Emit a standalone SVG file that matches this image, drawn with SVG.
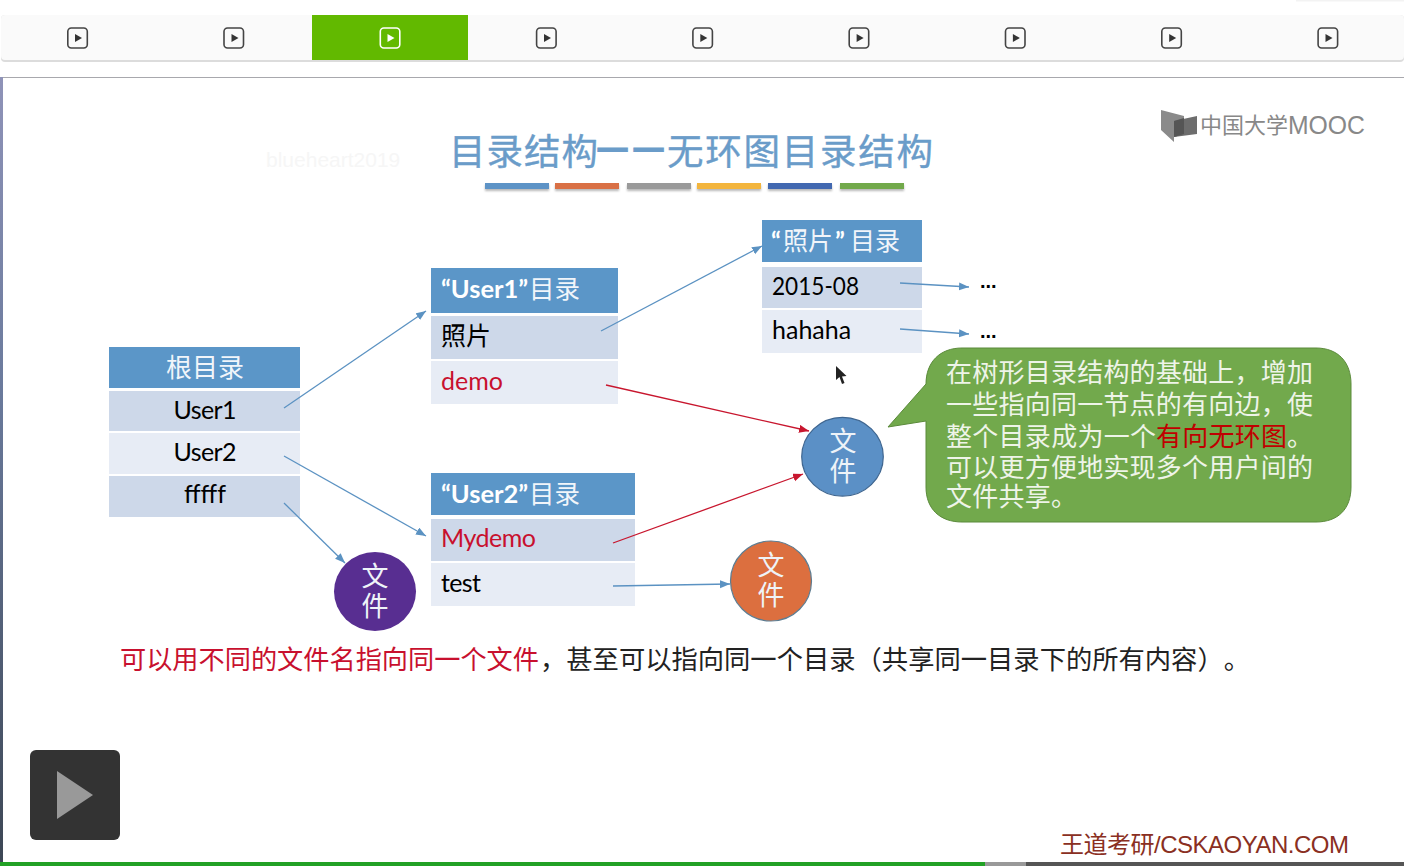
<svg xmlns="http://www.w3.org/2000/svg" width="1404" height="866" viewBox="0 0 1404 866">
<style>
text{font-family:"Lato","Noto Sans CJK SC",sans-serif;text-spacing-trim:space-all}
.cjk{font-family:"Noto Sans CJK SC",sans-serif}
.hd{fill:#5b96c8}.a{fill:#cdd8e9}.b{fill:#e7ecf5}
.t{font-size:25px;fill:#000}
.h{font-size:25.500px;fill:#fff;font-weight:700}
.h tspan,.hc{font-family:"Noto Sans CJK SC",sans-serif;font-weight:400;fill:#f1f5fa}
.c{font-size:27px;fill:#eef3f8;text-anchor:middle}
.l{font-size:26px;fill:#eef4e8}
.ti{font-family:"Noto Sans CJK SC",sans-serif;font-size:36.500px;fill:#6a9cc9}
.bl{stroke:#5b92c2;stroke-width:1.3;fill:none;marker-end:url(#ab)}
.rd{stroke:#c8162e;stroke-width:1.3;fill:none;marker-end:url(#ar)}
.ic{fill:none;stroke:#444;stroke-width:1.6}
.tri{fill:#333}
.dots{font-family:"Liberation Sans",sans-serif;font-size:20px;font-weight:700;fill:#000}
</style>
<defs>
<marker id="ab" markerUnits="userSpaceOnUse" markerWidth="12" markerHeight="10" refX="10" refY="4" orient="auto"><path d="M0 0L10 4L0 8Z" fill="#5b92c2"/></marker>
<marker id="ar" markerUnits="userSpaceOnUse" markerWidth="12" markerHeight="10" refX="10" refY="4" orient="auto"><path d="M0 0L10 4L0 8Z" fill="#c8162e"/></marker>
<linearGradient id="side" x1="0" y1="0" x2="0" y2="1"><stop offset="0" stop-color="#8f93b8"/><stop offset=".4" stop-color="#6a7a9c"/><stop offset="1" stop-color="#3c4654"/></linearGradient>
<filter id="sh" x="-10%" y="-50%" width="120%" height="250%"><feDropShadow dx="0" dy="2" stdDeviation="1.200" flood-color="#888" flood-opacity=".6"/></filter>
</defs>
<rect width="1404" height="866" fill="#fff"/>
<rect x="1296" y="0" width="108" height="1.500" fill="#f3f3f3"/>
<g id="toolbar">
<rect x="1" y="15" width="1403" height="47" rx="4" fill="#dcdcdc"/>
<rect x="1" y="15" width="1403" height="45" rx="4" fill="#fafafa"/>
<rect x="312" y="15" width="156" height="45" fill="#62b900"/>
<g id="tab1"><rect class="ic" x="67.800" y="28" width="19.500" height="20" rx="3.500"/><path class="tri" d="M75 34L75 42L82 38Z"/></g>
<g id="tab2"><rect class="ic" x="224" y="28" width="19.500" height="20" rx="3.500"/><path class="tri" d="M231.500 34L231.500 42L238.500 38Z"/></g>
<g id="tab3"><rect class="ic" style="stroke:#fff" x="380.300" y="28" width="19.500" height="20" rx="3.500"/><path style="fill:#fff" d="M387.500 34L387.500 42L394.500 38Z"/></g>
<g id="tab4"><rect class="ic" x="536.600" y="28" width="19.500" height="20" rx="3.500"/><path class="tri" d="M544 34L544 42L551 38Z"/></g>
<g id="tab5"><rect class="ic" x="692.900" y="28" width="19.500" height="20" rx="3.500"/><path class="tri" d="M700.300 34L700.300 42L707.300 38Z"/></g>
<g id="tab6"><rect class="ic" x="849.200" y="28" width="19.500" height="20" rx="3.500"/><path class="tri" d="M856.600 34L856.600 42L863.600 38Z"/></g>
<g id="tab7"><rect class="ic" x="1005.500" y="28" width="19.500" height="20" rx="3.500"/><path class="tri" d="M1012.900 34L1012.900 42L1019.900 38Z"/></g>
<g id="tab8"><rect class="ic" x="1161.800" y="28" width="19.500" height="20" rx="3.500"/><path class="tri" d="M1169.200 34L1169.200 42L1176.200 38Z"/></g>
<g id="tab9"><rect class="ic" x="1318.100" y="28" width="19.500" height="20" rx="3.500"/><path class="tri" d="M1325.500 34L1325.500 42L1332.500 38Z"/></g>
</g>
<rect x="0" y="77" width="1404" height="1" fill="#a8a8ad"/>
<rect x="0" y="77" width="3" height="789" fill="url(#side)"/>

<text x="266" y="167" style="font-family:'Liberation Sans',sans-serif;font-size:21px;fill:#f6f6f6">blueheart2019</text>
<g id="title">
<text class="ti" x="449" y="165" textLength="149" stroke="#6a9cc9" stroke-width=".4">目录结构</text>
<text class="ti" x="596" y="160" font-weight="700" stroke="#6a9cc9" stroke-width="1">—</text>
<text class="ti" x="632" y="160" font-weight="700" stroke="#6a9cc9" stroke-width="1">—</text>
<text class="ti" x="667" y="165" textLength="266" stroke="#6a9cc9" stroke-width=".4">无环图目录结构</text>
</g>
<g id="title-bars" filter="url(#sh)">
<rect x="485" y="183" width="64" height="6" fill="#5d93c6"/>
<rect x="555" y="183" width="64" height="6" fill="#d96f45"/>
<rect x="627" y="183" width="64" height="6" fill="#9a9a9a"/>
<rect x="697" y="183" width="64" height="6" fill="#f3b53c"/>
<rect x="768" y="183" width="64" height="6" fill="#4268b0"/>
<rect x="840" y="183" width="64" height="6" fill="#72a94c"/>
</g>
<g id="logo">
<path d="M1161 110L1184 116V134L1174 137V142L1161 130Z" fill="#8a8a8a"/>
<path d="M1174 121L1197 116V134L1174 137Z" fill="#6d6d6d"/>
<path d="M1174 121L1184 118V134L1174 137Z" fill="#555"/>
<text x="1200" y="133" style="font-family:'Noto Sans CJK SC',sans-serif;font-size:22px;fill:#888" textLength="88">中国大学</text>
<text x="1288" y="134" style="font-family:'Liberation Sans',sans-serif;font-size:26px;fill:#888" textLength="77" lengthAdjust="spacingAndGlyphs">MOOC</text>
</g>

<g id="root-dir">
<rect class="hd" x="109" y="347" width="191" height="41"/>
<rect class="a" x="109" y="391" width="191" height="40"/>
<rect class="b" x="109" y="433" width="191" height="41"/>
<rect class="a" x="109" y="476" width="191" height="41"/>
<text class="hc" x="205" y="377" text-anchor="middle" style="font-size:26px">根目录</text>
<text class="t" x="205" y="419" text-anchor="middle" textLength="63">User1</text>
<text class="t" x="205" y="461" text-anchor="middle" textLength="63">User2</text>
<text class="t" x="205" y="503" text-anchor="middle">fffff</text>
</g>
<g id="user1-dir">
<rect class="hd" x="431" y="268" width="187" height="45"/>
<rect class="a" x="431" y="316" width="187" height="43"/>
<rect class="b" x="431" y="361" width="187" height="43"/>
<text class="h" x="441" y="298">“User1”<tspan x="529">目录</tspan></text>
<text class="t" x="441" y="345">照片</text>
<text class="t" x="441" y="390" style="fill:#c8102e">demo</text>
</g>
<g id="user2-dir">
<rect class="hd" x="431" y="473" width="204" height="42"/>
<rect class="a" x="431" y="519" width="204" height="42"/>
<rect class="b" x="431" y="563" width="204" height="43"/>
<text class="h" x="441" y="503">“User2”<tspan x="529">目录</tspan></text>
<text class="t" x="441" y="547" style="fill:#c8102e" textLength="95">Mydemo</text>
<text class="t" x="441" y="592" textLength="40">test</text>
</g>
<g id="photo-dir">
<rect class="hd" x="762" y="220" width="160" height="42"/>
<rect class="a" x="762" y="267" width="160" height="41"/>
<rect class="b" x="762" y="310" width="160" height="43"/>
<text class="h" x="771" y="250">“<tspan x="783" style="font-size:25px">照片</tspan></text>
<text class="h" x="835" y="250">”<tspan x="850" style="font-size:25px">目录</tspan></text>
<text class="t" x="772" y="295" textLength="87" lengthAdjust="spacingAndGlyphs">2015-08</text>
<text class="t" x="772" y="339">hahaha</text>
</g>
<g id="connectors">
<path class="bl" d="M284 408L426 311"/>
<path class="bl" d="M284 456L426 536"/>
<path class="bl" d="M284 503L345 563"/>
<path class="bl" d="M601 331L762 246"/>
<path class="rd" d="M606 385L809 431"/>
<path class="rd" d="M613 543L803 474"/>
<path class="bl" d="M613 586L730 584"/>
<path class="bl" d="M900 283L969 287"/>
<path class="bl" d="M900 329L969 334"/>
</g>
<text class="dots" x="980" y="288">...</text>
<text class="dots" x="980" y="338">...</text>

<g id="file-blue">
<ellipse cx="842.500" cy="456.700" rx="40.800" ry="39.400" fill="#5b90c6" stroke="#3f6690" stroke-width="1.200"/>
<text class="c" x="843" y="451">文</text><text class="c" x="843" y="481">件</text>
</g>
<g id="file-purple">
<ellipse cx="375" cy="591.500" rx="41" ry="39.500" fill="#582e91"/>
<text class="c" x="375" y="586">文</text><text class="c" x="375" y="616">件</text>
</g>
<g id="file-orange">
<ellipse cx="771" cy="581" rx="40.500" ry="40" fill="#dc6f3f" stroke="#5d7d92" stroke-width="1.200"/>
<text class="c" x="771" y="575">文</text><text class="c" x="771" y="605">件</text>
</g>
<g id="callout">
<path d="M926 384C926 362 940 348 962 348H1316C1338 348 1351 362 1351 384V487C1351 509 1338 522 1316 522H962C940 522 926 509 926 487V421L888 427Z" fill="#72a94c" stroke="#5a8a3a" stroke-width="1"/>
<text class="l" x="946" y="382" textLength="367">在树形目录结构的基础上，增加</text>
<text class="l" x="946" y="414" textLength="367">一些指向同一节点的有向边，使</text>
<text class="l" x="946" y="446" textLength="210">整个目录成为一个</text>
<text class="l" x="1156" y="446" style="fill:#c00000" textLength="131">有向无环图</text>
<text class="l" x="1287" y="446">。</text>
<text class="l" x="946" y="477" textLength="367">可以更方便地实现多个用户间的</text>
<text class="l" x="946" y="506" textLength="131">文件共享。</text>
</g>
<g id="note">
<text x="120" y="669" style="font-size:26.200px;fill:#c8102e">可以用不同的文件名指向同一个文件</text>
<text x="540" y="669" style="font-size:26.300px;fill:#222">，甚至可以指向同一个目录（共享同一目录下的所有内容）。</text>
</g>
<path id="cursor" d="M836 366V380L839.500 377L842 384L844.500 383L842 376.500L846.500 376Z" fill="#222"/>
<g id="player">
<rect x="30" y="750" width="90" height="90" rx="6" fill="#333"/>
<path d="M57 771V819L93 795Z" fill="#999"/>
</g>
<text id="watermark" x="1060" y="853" style="font-family:'Liberation Sans','Noto Sans CJK SC',sans-serif;font-size:24px;fill:#8a2f22" textLength="289">王道考研/CSKAOYAN.COM</text>
<g id="progress">
<rect x="0" y="862" width="1404" height="4" fill="#555"/>
<rect x="985" y="862" width="41" height="4" fill="#999"/>
<rect x="0" y="862" width="985" height="4" fill="#22a125"/>
</g>
</svg>
